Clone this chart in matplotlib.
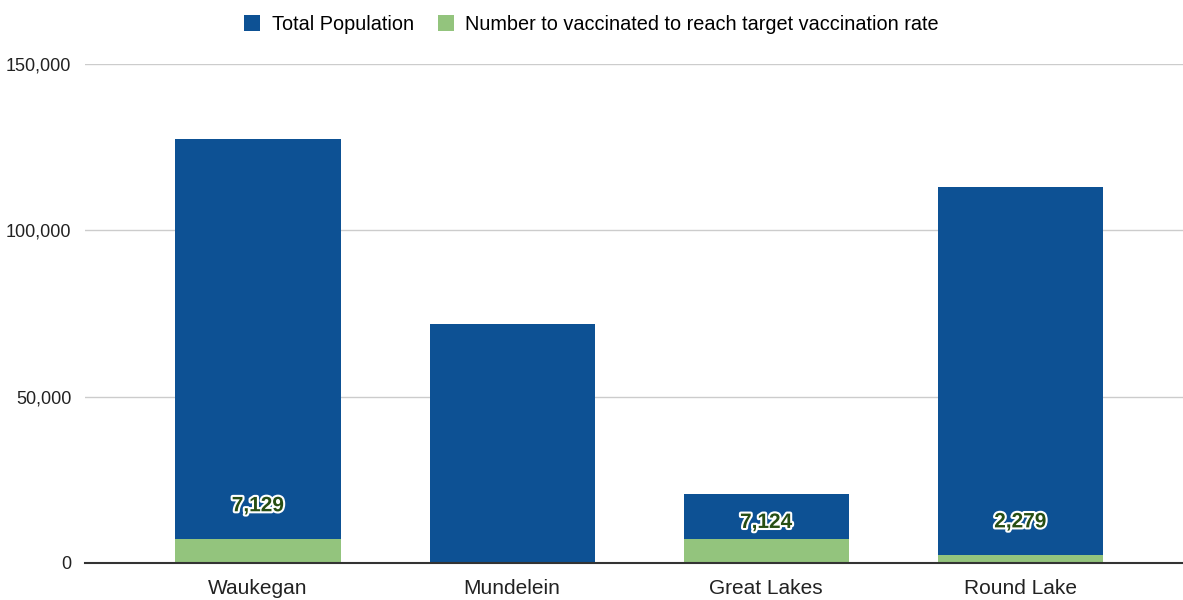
import matplotlib.pyplot as plt
import matplotlib.patheffects as pe
from matplotlib.ticker import FuncFormatter

plt.rcParams['font.family'] = ['Liberation Sans', 'DejaVu Sans']

towns = ['Waukegan', 'Mundelein', 'Great Lakes', 'Round Lake']
total_pop = [127400, 71900, 20800, 113100]
to_vaccinate = [7129, 0, 7124, 2279]
label_offsets = [24, 0, 12, 24]  # points above green bar

blue = '#0d5194'
green = '#93c47d'

fig = plt.figure(figsize=(11.83, 6), dpi=100)
ax = fig.add_axes([0.072, 0.062, 0.928, 0.831])

x = range(len(towns))
ax.bar(x, total_pop, width=0.65, color=blue, zorder=2,
       label='Total Population')
ax.bar(x, to_vaccinate, width=0.65, color=green, zorder=3,
       label='Number to vaccinated to reach target vaccination rate')

for i, v in enumerate(to_vaccinate):
    if v == 0:
        continue
    ax.annotate(f'{v:,}', (i, v), xytext=(0, label_offsets[i]),
                textcoords='offset points', ha='center', va='center',
                fontsize=15, fontweight='bold', color='#274e13', zorder=4,
                path_effects=[pe.withStroke(linewidth=3, foreground='white')])

ax.set_ylim(0, 150000)
ax.set_xlim(-0.68, 3.64)
ax.set_yticks([0, 50000, 100000, 150000])
ax.yaxis.set_major_formatter(FuncFormatter(lambda v, p: f'{int(v):,}'))
ax.set_xticks(list(x))
ax.set_xticklabels(towns)
ax.tick_params(axis='both', length=0, colors='#222222')
ax.tick_params(axis='x', pad=12, labelsize=15)
ax.tick_params(axis='y', pad=10, labelsize=13)
ax.grid(axis='y', color='#cccccc', linewidth=1, zorder=0)
for s in ['top', 'right', 'left']:
    ax.spines[s].set_visible(False)
ax.spines['bottom'].set_color('#333333')
ax.spines['bottom'].set_linewidth(1.5)
ax.spines['bottom'].set_zorder(5)

fig.legend(loc='upper center', bbox_to_anchor=(0.5, 1.005), ncol=2,
           frameon=False, fontsize=14.3, handlelength=0.8, handleheight=0.8,
           handletextpad=0.6, columnspacing=1.2)

plt.savefig('out.png')
